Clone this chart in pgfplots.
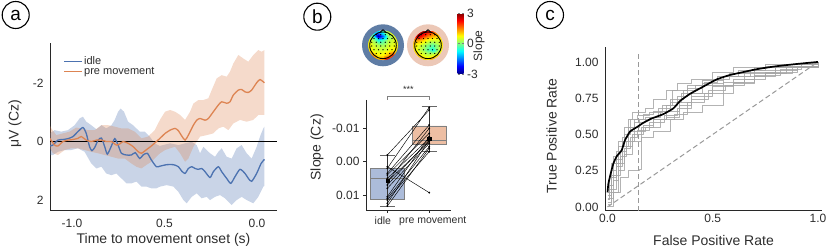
\documentclass[border=0pt]{standalone}
\usepackage{fontspec}
\setmainfont{Liberation Sans}
\usepackage{pgfplots}
\usepackage{pgfplotstable}
\pgfplotsset{compat=1.18}
\definecolor{cblue}{HTML}{4C72B0}
\definecolor{corange}{HTML}{DD8452}
\definecolor{idlebox}{RGB}{172,188,218}
\definecolor{prebox}{RGB}{237,190,163}
\definecolor{ringblue}{RGB}{95,125,165}
\definecolor{ringpeach}{RGB}{236,200,183}
\definecolor{axcol}{RGB}{40,40,40}
\definecolor{txtcol}{RGB}{45,45,45}
\pgfplotstableread{
x y z
-0.45 0.7 0
-0.15 0.7 0
0.15 0.7 0
0.45 0.7 0
-0.6 0.45 0
-0.3 0.45 0
0 0.45 0
0.3 0.45 0
0.6 0.45 0
-0.75 0.2 0
-0.45 0.2 0
-0.15 0.2 0
0.15 0.2 0
0.45 0.2 0
0.75 0.2 0
-0.75 -0.05 0
-0.45 -0.05 0
-0.15 -0.05 0
0.15 -0.05 0
0.45 -0.05 0
0.75 -0.05 0
-0.6 -0.3 0
-0.3 -0.3 0
0 -0.3 0
0.3 -0.3 0
0.6 -0.3 0
-0.45 -0.55 0
-0.15 -0.55 0
0.15 -0.55 0
0.45 -0.55 0
}\electrodes
\tikzset{lbl/.style={font=\fontsize{14}{14}\selectfont, text=txtcol}}
\pgfplotsset{
  myax/.style={scale only axis, anchor=south west,
    axis x line*=bottom, axis y line*=left,
    axis line style={-, axcol, line width=0.9pt},
    tick style={axcol, line width=0.8pt},
    tick label style={font=\fontsize{12}{12}\selectfont, text=txtcol},
    scaled ticks=false,
  },
  topo/.style={scale only axis, anchor=center, width=42pt, height=42pt,
    xmin=-1.4, xmax=1.4, ymin=-1.4, ymax=1.4, hide axis, view={0}{90},
    colormap/jet, point meta min=-3, point meta max=3, clip=false},
}
\begin{document}
\begin{tikzpicture}[x=1pt,y=1pt]
\path[use as bounding box] (0pt,0pt) rectangle (830pt,251pt);

% ---------------- panel a ----------------
\begin{axis}[myax, at={(50pt,41pt)}, width=227pt, height=167pt,
  xmin=-1.119, xmax=0.108, ymin=-3.37, ymax=2.34, y dir=reverse,
  xtick={-1,-0.5,0}, xticklabels={-1.0,0.5,0.0},
  ytick={-2,0,2}, yticklabels={-2,0,2},
  major tick length=0pt,
  xticklabel style={yshift=-6pt}, yticklabel style={xshift=-3pt},
  xlabel={Time to movement onset (s)}, ylabel={μV (Cz)},
  every axis x label/.style={lbl, at={(axis description cs:0.5,-0.18)}, anchor=center},
  every axis y label/.style={lbl, at={(axis description cs:-0.154,0.515)}, anchor=center, rotate=90},
  legend style={at={(axis description cs:0.06,0.93)}, anchor=north west, draw=none, fill=none,
    font=\fontsize{11}{11}\selectfont, row sep=-3pt, inner sep=0pt},
  legend cell align=left,
]
% blue band
\addplot[draw=none, fill=cblue, fill opacity=0.3, forget plot] coordinates {
(-1.120,-0.28) (-1.094,-0.39) (-1.058,-0.34) (-1.022,-0.39) (-0.986,-0.56) (-0.959,-0.79)
(-0.941,-0.85) (-0.923,-0.68) (-0.896,-0.56) (-0.868,-0.42) (-0.841,-0.56) (-0.815,-0.45)
(-0.787,-0.56) (-0.769,-0.74) (-0.751,-1.02) (-0.737,-1.13) (-0.719,-1.02) (-0.697,-0.68)
(-0.670,-0.56) (-0.652,-0.45) (-0.634,-0.34) (-0.607,-0.34) (-0.580,-0.17) (-0.553,0.06)
(-0.526,0.15) (-0.470,0.06) (-0.425,0.12) (-0.389,0.06) (-0.353,0.01) (-0.326,0.12)
(-0.308,0.40) (-0.290,0.18) (-0.254,0.40) (-0.227,0.52) (-0.209,0.35) (-0.191,0.23)
(-0.164,0.52) (-0.137,0.58) (-0.110,0.23) (-0.083,0.12) (-0.056,0.40) (-0.029,0.58)
(-0.002,0.18) (0.016,-0.17) (0.034,-0.45) (0.040,-0.51)
(0.040,1.52) (0.034,1.54) (0.007,1.89) (-0.020,2.11) (-0.056,2.00) (-0.083,1.89)
(-0.110,2.00) (-0.137,2.17) (-0.173,1.94) (-0.200,1.83) (-0.227,1.89) (-0.254,2.00)
(-0.272,1.89) (-0.299,1.94) (-0.326,1.77) (-0.353,1.89) (-0.380,2.11) (-0.398,2.00)
(-0.425,1.72) (-0.452,1.54) (-0.488,1.49) (-0.524,1.54) (-0.544,1.60) (-0.571,1.60)
(-0.598,1.54) (-0.625,1.54) (-0.652,1.37) (-0.679,1.43) (-0.706,1.43) (-0.733,1.26)
(-0.760,1.09) (-0.787,1.15) (-0.815,1.09) (-0.841,0.86) (-0.868,0.92) (-0.896,0.75)
(-0.932,0.35) (-0.968,0.23) (-1.004,0.29) (-1.040,0.29) (-1.076,0.35) (-1.103,0.46) (-1.120,0.46)
};
% orange band
\addplot[draw=none, fill=corange, fill opacity=0.3, forget plot] coordinates {
(-1.120,-0.56) (-1.112,-0.45) (-1.085,-0.22) (-1.049,-0.28) (-1.013,-0.34) (-0.977,-0.48)
(-0.950,-0.45) (-0.914,-0.39) (-0.877,-0.39) (-0.841,-0.56) (-0.805,-0.56) (-0.769,-0.51)
(-0.733,-0.45) (-0.697,-0.45) (-0.661,-0.34) (-0.625,-0.11) (-0.589,-0.17) (-0.553,-0.39)
(-0.524,-0.75) (-0.497,-1.02) (-0.470,-1.08) (-0.443,-1.02) (-0.416,-0.91) (-0.389,-0.74)
(-0.362,-1.02) (-0.344,-1.30) (-0.317,-1.42) (-0.290,-1.42) (-0.263,-1.48) (-0.245,-1.76)
(-0.218,-2.16) (-0.191,-2.27) (-0.164,-2.22) (-0.146,-2.39) (-0.128,-2.67) (-0.101,-2.96)
(-0.074,-2.84) (-0.047,-2.73) (-0.020,-2.96) (0.007,-3.13) (0.025,-3.07) (0.040,-3.13)
(0.040,-0.91) (0.007,-0.91) (-0.020,-0.74) (-0.056,-0.68) (-0.092,-0.74) (-0.128,-0.62)
(-0.155,-0.39) (-0.182,-0.51) (-0.209,-0.45) (-0.236,-0.28) (-0.272,-0.22) (-0.308,-0.17)
(-0.344,0.18) (-0.371,0.58) (-0.389,0.69) (-0.416,0.40) (-0.443,0.18) (-0.470,0.23)
(-0.497,0.29) (-0.524,0.40) (-0.535,0.46) (-0.571,0.69) (-0.598,0.80) (-0.625,0.92)
(-0.652,0.86) (-0.679,0.75) (-0.715,0.58) (-0.751,0.58) (-0.787,0.52) (-0.823,0.46)
(-0.860,0.40) (-0.896,0.35) (-0.932,0.29) (-0.968,0.23) (-1.004,0.23) (-1.040,0.29)
(-1.076,0.46) (-1.103,0.40) (-1.120,0.23)
};
\addplot[black, line width=1pt, forget plot] coordinates {(-1.119,0) (0.108,0)};
% idle mean
\addplot[cblue, line width=1.3pt, smooth, tension=0.4, forget plot] coordinates {
(-1.120,0.15) (-1.103,0.12) (-1.076,-0.05) (-1.049,-0.07) (-1.022,-0.10) (-0.995,-0.17)
(-0.968,-0.34) (-0.941,-0.48) (-0.923,-0.28) (-0.905,0.18) (-0.892,0.31) (-0.877,0.20)
(-0.859,-0.05) (-0.841,-0.12) (-0.823,0.18) (-0.809,0.43) (-0.787,0.15) (-0.769,-0.10)
(-0.751,0.12) (-0.733,0.40) (-0.706,0.46) (-0.679,0.46) (-0.658,0.38) (-0.634,0.58)
(-0.616,0.46) (-0.593,0.40) (-0.571,0.63) (-0.544,0.86) (-0.524,0.84) (-0.488,0.79)
(-0.452,0.79) (-0.425,0.86) (-0.407,1.01) (-0.389,1.09) (-0.371,0.92) (-0.353,0.86)
(-0.335,0.92) (-0.317,0.95) (-0.299,0.92) (-0.281,1.03) (-0.254,1.23) (-0.236,1.03)
(-0.209,0.86) (-0.191,1.03) (-0.164,1.26) (-0.142,1.43) (-0.119,1.20) (-0.092,0.95)
(-0.065,1.09) (-0.047,1.26) (-0.029,1.36) (-0.002,1.09) (0.022,0.75) (0.040,0.61)
};
% pre movement mean
\addplot[corange, line width=1.3pt, smooth, tension=0.4, forget plot] coordinates {
(-1.120,-0.11) (-1.094,0.12) (-1.076,0.15) (-1.049,0.00) (-1.022,-0.05) (-0.995,-0.07)
(-0.968,-0.11) (-0.950,-0.17) (-0.923,-0.05) (-0.896,0.00) (-0.868,-0.05) (-0.841,-0.05)
(-0.814,0.00) (-0.787,0.00) (-0.760,0.12) (-0.742,0.08) (-0.724,0.00) (-0.697,0.06)
(-0.670,0.17) (-0.643,0.34) (-0.625,0.40) (-0.598,0.28) (-0.571,0.15) (-0.535,-0.05)
(-0.510,-0.20) (-0.497,-0.28) (-0.470,-0.39) (-0.443,-0.45) (-0.425,-0.37) (-0.407,-0.19)
(-0.389,-0.05) (-0.371,-0.22) (-0.344,-0.56) (-0.326,-0.73) (-0.308,-0.79) (-0.281,-0.73)
(-0.263,-0.79) (-0.236,-1.02) (-0.209,-1.25) (-0.191,-1.36) (-0.164,-1.31) (-0.146,-1.36)
(-0.128,-1.59) (-0.101,-1.76) (-0.083,-1.78) (-0.065,-1.70) (-0.047,-1.68) (-0.029,-1.76)
(-0.002,-2.01) (0.016,-2.12) (0.040,-2.01)
};
\addlegendimage{color=cblue, line width=1.3pt}
\addlegendentry{\textcolor{txtcol}{idle}}
\addlegendimage{color=corange, line width=1.3pt}
\addlegendentry{\textcolor{txtcol}{pre movement}}
\end{axis}

% ---------------- panel b: topomaps ----------------
\begin{axis}[topo, at={(383pt,205.7pt)}]
\addplot3[surf, shader=interp, mesh/rows=7, mesh/cols=7, point meta=z] table {
x y z
-0.98 0.98 0.5
-0.653 0.98 -0.3
-0.327 0.98 -1
0 0.98 -0.3
0.327 0.98 0.5
0.653 0.98 0.8
0.98 0.98 1
-0.98 0.653 0.5
-0.653 0.653 -0.5
-0.327 0.653 -2.8
0 0.653 -1.6
0.327 0.653 0
0.653 0.653 0.5
0.98 0.653 0.8
-0.98 0.327 0.8
-0.653 0.327 0.2
-0.327 0.327 -0.6
0 0.327 -0.3
0.327 0.327 0.3
0.653 0.327 0.5
0.98 0.327 0.8
-0.98 0 0.8
-0.653 0 0.5
-0.327 0 0.3
0 0 0.2
0.327 0 0.5
0.653 0 0.6
0.98 0 0.8
-0.98 -0.327 1
-0.653 -0.327 0.6
-0.327 -0.327 0.5
0 -0.327 0.5
0.327 -0.327 0.6
0.653 -0.327 0.8
0.98 -0.327 1
-0.98 -0.653 2
-0.653 -0.653 1.3
-0.327 -0.653 0.8
0 -0.653 0.8
0.327 -0.653 1.2
0.653 -0.653 2
0.98 -0.653 1.5
-0.98 -0.98 1.5
-0.653 -0.98 2.5
-0.327 -0.98 1.2
0 -0.98 1.5
0.327 -0.98 2.8
0.653 -0.98 2.8
0.98 -0.98 1.5
};
\addplot3[only marks, mark=*, mark size=0.3pt, black] table[x=x, y=y, z=z] {\electrodes};
\end{axis}
\begin{axis}[topo, at={(428pt,205.7pt)}, colorbar,
  colorbar style={at={(parent axis.north east)}, anchor=north west, xshift=0pt, yshift=11.3pt,
    width=6pt, height=61pt, ytick={-3,0,3}, yticklabels={-3,0,3},
    yticklabel style={font=\fontsize{12}{12}\selectfont, text=txtcol},
    major tick length=2pt, axis line style={draw=none},
    ylabel={Slope}, ylabel style={font=\fontsize{12}{12}\selectfont, text=txtcol,
      at={(axis description cs:3.6,0.46)}, anchor=center, rotate=0}}]
\addplot3[surf, shader=interp, mesh/rows=7, mesh/cols=7, point meta=z] table {
x y z
-0.98 0.98 2
-0.653 0.98 3
-0.327 0.98 2.8
0 0.98 2.3
0.327 0.98 1.8
0.653 0.98 1.3
0.98 0.98 1
-0.98 0.653 2.2
-0.653 0.653 2.6
-0.327 0.653 2
0 0.653 1.5
0.327 0.653 1.2
0.653 0.653 1
0.98 0.653 1
-0.98 0.327 1.3
-0.653 0.327 1.3
-0.327 0.327 1
0 0.327 0.6
0.327 0.327 0.5
0.653 0.327 0.5
0.98 0.327 1
-0.98 0 1
-0.653 0 0.6
-0.327 0 0.3
0 0 0
0.327 0 -0.2
0.653 0 0.2
0.98 0 1
-0.98 -0.327 1
-0.653 -0.327 0.5
-0.327 -0.327 0.2
0 -0.327 -0.2
0.327 -0.327 -0.6
0.653 -0.327 0.2
0.98 -0.327 1
-0.98 -0.653 1.3
-0.653 -0.653 1
-0.327 -0.653 0.6
0 -0.653 0.4
0.327 -0.653 0.6
0.653 -0.653 1
0.98 -0.653 1.3
-0.98 -0.98 1
-0.653 -0.98 1.5
-0.327 -0.98 1.2
0 -0.98 1
0.327 -0.98 1.5
0.653 -0.98 1.5
0.98 -0.98 1
};
\addplot3[only marks, mark=*, mark size=0.3pt, black] table[x=x, y=y, z=z] {\electrodes};
\end{axis}
\fill[ringblue, even odd rule] (383,205.7) circle[radius=21] (383,205.7) circle[radius=15];
\fill[ringpeach, even odd rule] (428,205.7) circle[radius=21] (428,205.7) circle[radius=15];
\foreach \cx in {383,428}{
  \draw[black, line width=0.9pt] (\cx,205.7) circle[radius=13.3];
  \draw[black, line width=0.9pt] (\cx-3,218.6) -- (\cx,221.3) -- (\cx+3,218.6);
}

% ---------------- panel b: slopes ----------------
\begin{axis}[myax, at={(366pt,41pt)}, width=85pt, height=110pt,
  xmin=-0.51, xmax=1.52, ymin=-0.0185, ymax=0.0145, y dir=reverse, clip=false,
  xtick={0,1}, xticklabels={idle\hspace*{9pt}, \hspace*{7pt}pre movement},
  ytick={-0.01,0,0.01}, yticklabels={-0.01,0.00,0.01},
  tick align=outside, major tick length=3pt,
  xticklabel style={font=\fontsize{10.5}{10.5}\selectfont},
  ylabel={Slope (Cz)},
  every axis y label/.style={lbl, at={(axis description cs:-0.576,0.57)}, anchor=center, rotate=90},
]
% boxes
\addplot[fill=idlebox, draw=gray, line width=0.7pt] coordinates {(-0.4,0.002) (0.4,0.002) (0.4,0.0112) (-0.4,0.0112) (-0.4,0.002)};
\addplot[gray, line width=0.9pt] coordinates {(-0.4,0.005) (0.4,0.005)};
\addplot[fill=prebox, draw=gray, line width=0.7pt] coordinates {(0.6,-0.0107) (1.4,-0.0107) (1.4,-0.0052) (0.6,-0.0052) (0.6,-0.0107)};
\addplot[gray, line width=0.9pt] coordinates {(0.6,-0.0065) (1.4,-0.0065)};
% whiskers with caps
\addplot[black!80, line width=0.8pt] coordinates {(0,-0.002) (0,0.0133)};
\addplot[black!60, line width=0.8pt] coordinates {(-0.18,-0.002) (0.18,-0.002)};
\addplot[black!60, line width=0.8pt] coordinates {(-0.18,0.0133) (0.18,0.0133)};
\addplot[black!80, line width=0.8pt] coordinates {(1,-0.0165) (1,-0.003)};
\addplot[black!60, line width=0.8pt] coordinates {(0.82,-0.0165) (1.18,-0.0165)};
\addplot[black!60, line width=0.8pt] coordinates {(0.82,-0.003) (1.18,-0.003)};
% subjects
\addplot[black, line width=0.45pt, mark=*, mark size=0.7pt] coordinates {(0,-0.002) (1,-0.0155)};
\addplot[black, line width=0.45pt, mark=*, mark size=0.7pt] coordinates {(0,0.0015) (1,0.0093)};
\addplot[black, line width=0.45pt, mark=*, mark size=0.7pt] coordinates {(0,0.002) (1,-0.0163)};
\addplot[black, line width=0.45pt, mark=*, mark size=0.7pt] coordinates {(0,0.0035) (1,-0.011)};
\addplot[black, line width=0.45pt, mark=*, mark size=0.7pt] coordinates {(0,0.004) (1,-0.0085)};
\addplot[black, line width=0.45pt, mark=*, mark size=0.7pt] coordinates {(0,0.005) (1,-0.007)};
\addplot[black, line width=0.45pt, mark=*, mark size=0.7pt] coordinates {(0,0.006) (1,-0.010)};
\addplot[black, line width=0.45pt, mark=*, mark size=0.7pt] coordinates {(0,0.006) (1,-0.006)};
\addplot[black, line width=0.45pt, mark=*, mark size=0.7pt] coordinates {(0,0.007) (1,-0.0065)};
\addplot[black, line width=0.45pt, mark=*, mark size=0.7pt] coordinates {(0,0.008) (1,-0.0055)};
\addplot[black, line width=0.45pt, mark=*, mark size=0.7pt] coordinates {(0,0.0105) (1,-0.0075)};
\addplot[black, line width=0.45pt, mark=*, mark size=0.7pt] coordinates {(0,0.011) (1,-0.0045)};
\addplot[black, line width=0.45pt, mark=*, mark size=0.7pt] coordinates {(0,0.0115) (1,-0.003)};
\addplot[black, line width=0.45pt, mark=*, mark size=0.7pt] coordinates {(0,0.0125) (1,-0.0065)};
\addplot[black, line width=0.45pt, mark=*, mark size=0.7pt] coordinates {(0,0.0133) (1,-0.004)};
\addplot[only marks, mark=square*, mark size=1.6pt, black] coordinates {(0,0.0058) (1,-0.0070)};
\draw[gray, line width=0.7pt] (axis cs:0,-0.0186) -- (axis cs:0,-0.0195) -- (axis cs:1,-0.0195) -- (axis cs:1,-0.0186);
\node[font=\fontsize{9}{9}\selectfont, text=txtcol] at (axis cs:0.5,-0.0218) {***};
\end{axis}

% ---------------- panel c ----------------
\begin{axis}[myax, at={(605pt,40.3pt)}, width=217pt, height=163.7pt,
  xmin=-0.012, xmax=1.019, ymin=-0.026, ymax=1.103,
  xtick={0,0.5,1}, xticklabels={0.0,0.5,1.0},
  ytick={0,0.25,0.5,0.75,1}, yticklabels={0.00,0.25,0.50,0.75,1.00},
  major tick length=0pt, yticklabel style={xshift=-3pt},
  xlabel={False Positive Rate}, ylabel={True Positive Rate},
  every axis x label/.style={lbl, at={(axis description cs:0.5,-0.179)}, anchor=center},
  every axis y label/.style={lbl, at={(axis description cs:-0.246,0.456)}, anchor=center, rotate=90},
  every axis plot/.append style={line join=round},
]
\addplot[dashed, dash pattern=on 5pt off 3pt, gray!80, line width=1pt] coordinates {(0,0) (1,1)};
\addplot[dashed, dash pattern=on 5pt off 3pt, gray!80, line width=1pt] coordinates {(0.145,-0.026) (0.145,1.06)};
\pgfplotsset{gcurve/.style={const plot, gray!70, line width=0.9pt, opacity=0.85}}
\addplot[gcurve] coordinates {(0,0.05)(0.01,0.2)(0.03,0.35)(0.05,0.45)(0.08,0.55)(0.1,0.6)(0.12,0.65)(0.18,0.68)(0.22,0.74)(0.28,0.8)(0.33,0.85)(0.4,0.88)(0.5,0.93)(0.6,0.96)(0.75,0.98)(0.9,0.99)(1,1)};
\addplot[gcurve] coordinates {(0,0)(0.03,0.1)(0.06,0.2)(0.1,0.25)(0.15,0.26)(0.16,0.48)(0.22,0.52)(0.3,0.6)(0.36,0.65)(0.45,0.7)(0.55,0.78)(0.6,0.85)(0.7,0.9)(0.8,0.94)(0.9,0.97)(1,1)};
\addplot[gcurve] coordinates {(0,0.1)(0.02,0.25)(0.04,0.38)(0.07,0.45)(0.1,0.55)(0.15,0.6)(0.2,0.62)(0.25,0.66)(0.3,0.72)(0.35,0.78)(0.45,0.85)(0.55,0.9)(0.65,0.93)(0.8,0.96)(1,1)};
\addplot[gcurve] coordinates {(0,0.02)(0.02,0.12)(0.04,0.3)(0.06,0.38)(0.09,0.42)(0.12,0.5)(0.17,0.56)(0.22,0.6)(0.28,0.62)(0.34,0.7)(0.4,0.76)(0.5,0.84)(0.6,0.88)(0.7,0.92)(0.85,0.96)(1,1)};
\addplot[gcurve] coordinates {(0,0.15)(0.02,0.3)(0.05,0.42)(0.08,0.5)(0.11,0.6)(0.14,0.63)(0.2,0.65)(0.26,0.7)(0.31,0.8)(0.38,0.84)(0.46,0.86)(0.52,0.9)(0.62,0.94)(0.75,0.97)(1,1)};
\addplot[gcurve] coordinates {(0,0.05)(0.01,0.15)(0.03,0.22)(0.06,0.35)(0.09,0.45)(0.13,0.52)(0.18,0.55)(0.25,0.6)(0.32,0.64)(0.38,0.72)(0.46,0.78)(0.55,0.86)(0.65,0.9)(0.75,0.93)(0.9,0.97)(1,1)};
\addplot[gcurve] coordinates {(0,0.08)(0.02,0.2)(0.04,0.33)(0.07,0.48)(0.1,0.55)(0.13,0.58)(0.18,0.62)(0.24,0.68)(0.3,0.74)(0.36,0.8)(0.42,0.84)(0.5,0.88)(0.58,0.92)(0.7,0.96)(0.85,0.98)(1,1)};
\addplot[gcurve] coordinates {(0,0.03)(0.02,0.1)(0.05,0.25)(0.08,0.4)(0.11,0.48)(0.14,0.53)(0.2,0.58)(0.27,0.63)(0.33,0.68)(0.4,0.74)(0.48,0.8)(0.56,0.84)(0.65,0.88)(0.75,0.92)(0.88,0.96)(1,1)};
\addplot[gcurve] coordinates {(0,0.12)(0.02,0.22)(0.04,0.28)(0.07,0.42)(0.1,0.52)(0.13,0.6)(0.17,0.64)(0.22,0.66)(0.28,0.7)(0.33,0.76)(0.38,0.82)(0.45,0.87)(0.55,0.9)(0.68,0.94)(0.8,0.97)(1,1)};
\addplot[gcurve] coordinates {(0,0.06)(0.03,0.18)(0.05,0.3)(0.08,0.36)(0.12,0.45)(0.16,0.55)(0.22,0.6)(0.28,0.66)(0.34,0.72)(0.4,0.78)(0.5,0.83)(0.6,0.86)(0.7,0.91)(0.82,0.95)(0.92,0.98)(1,1)};
\addplot[black, line width=1.7pt, smooth, tension=0.3] coordinates {
(0,0.10)(0.004,0.16)(0.015,0.23)(0.028,0.30)(0.044,0.35)(0.067,0.39)(0.083,0.46)(0.107,0.52)
(0.139,0.55)(0.17,0.58)(0.21,0.61)(0.265,0.64)(0.313,0.68)(0.344,0.73)(0.392,0.78)(0.455,0.83)
(0.519,0.88)(0.582,0.91)(0.645,0.93)(0.709,0.95)(0.80,0.97)(0.90,0.986)(1.0,1.0)};
\end{axis}

% panel letters
\foreach \px/\py/\lab in {15.7/236/a, 317.3/234.3/b, 550/236/c}{
  \node[draw, circle, line width=1.1pt, minimum size=27pt, inner sep=0pt,
    font=\fontsize{19}{19}\selectfont] at (\px,\py) {\lab};
}
\end{tikzpicture}
\end{document}
